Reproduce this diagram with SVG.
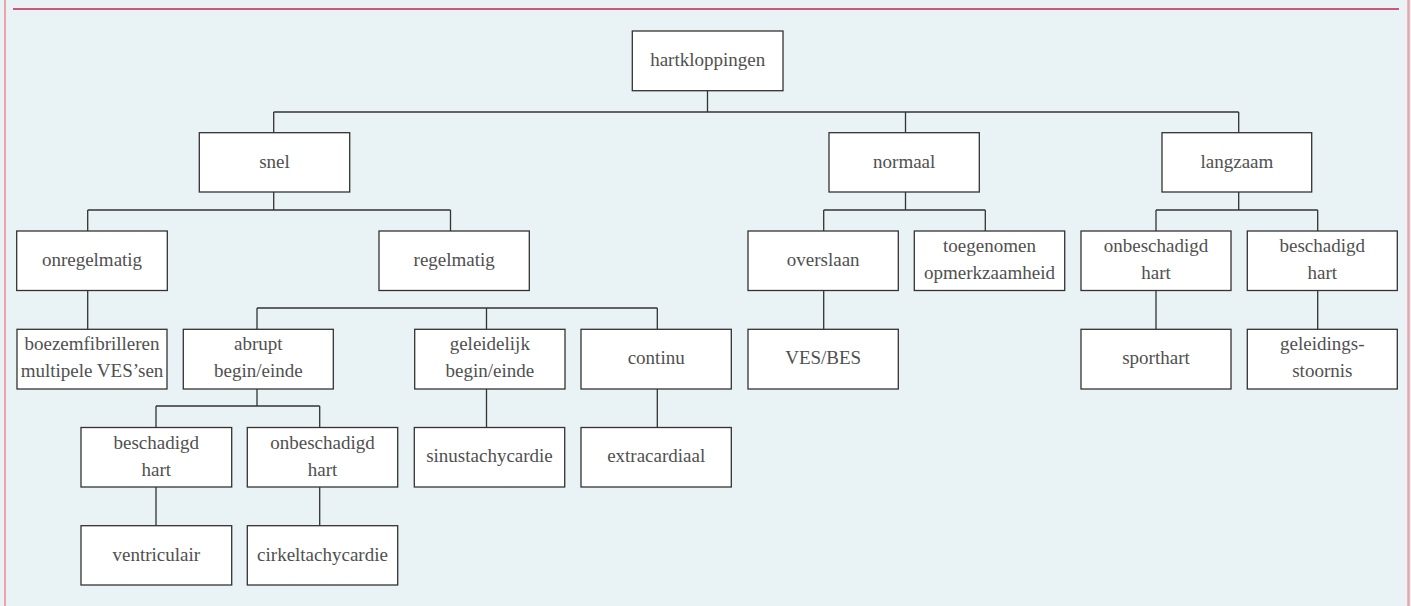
<svg xmlns="http://www.w3.org/2000/svg" width="1411" height="606" viewBox="0 0 1411 606">
<style>
.bg{fill:#e9f2f5}
.box{fill:#ffffff;stroke:#333333;stroke-width:1.3}
.lbl{font-family:"Liberation Serif","Times New Roman",serif;font-size:19px;fill:#505050;text-anchor:middle}
.con{fill:none;stroke:#333333;stroke-width:1.3}
</style>
<rect class="bg" x="0" y="0" width="1411" height="606"/>
<line x1="5" y1="0" x2="5" y2="606" stroke="#eba5aa" stroke-width="2"/>
<line x1="1408.5" y1="0" x2="1408.5" y2="606" stroke="#eba5aa" stroke-width="2.5"/>
<line x1="13" y1="9" x2="1399" y2="9" stroke="#d1547a" stroke-width="2"/>
<g id="connectors">
<path class="con" d="M707.5,91 V112 M273.7,112 H1238.7 M273.7,112 V133 M905.5,112 V133 M1238.7,112 V133"/>
<path class="con" d="M273.7,192 V210 M87.7,210 H450.5 M87.7,210 V231 M450.5,210 V231"/>
<path class="con" d="M905.5,192 V210 M823.7,210 H985.3 M823.7,210 V231 M985.3,210 V231"/>
<path class="con" d="M1238.7,192 V210 M1156,210 H1317.7 M1156,210 V231 M1317.7,210 V231"/>
<path class="con" d="M87.7,290.5 V329.3 M823.7,290.5 V329.3 M1156,290.5 V329.3 M1317.7,290.5 V329.3"/>
<path class="con" d="M257,308 H657.3 M257,308 V329.3 M486.5,308 V329.3 M657.3,308 V329.3"/>
<path class="con" d="M257,389 V406 M156,406 H319.7 M156,406 V427.5 M319.7,406 V427.5 M486.5,389 V427.5 M657.3,389 V427.5"/>
<path class="con" d="M156,487 V525.7 M319.7,487 V525.7"/>
</g>
<g id="n-hartkloppingen"><rect class="box" x="632.3" y="31" width="150.7" height="59.7"/><text class="lbl" x="707.7" y="66">hartkloppingen</text></g>
<g id="n-snel"><rect class="box" x="199.3" y="132.7" width="150.4" height="59.3"/><text class="lbl" x="274.5" y="167.5">snel</text></g>
<g id="n-normaal"><rect class="box" x="829" y="132.7" width="150.3" height="59.3"/><text class="lbl" x="904.2" y="167.5">normaal</text></g>
<g id="n-langzaam"><rect class="box" x="1162" y="132.7" width="149.7" height="59.3"/><text class="lbl" x="1236.9" y="167.5">langzaam</text></g>
<g id="n-onregelmatig"><rect class="box" x="16.7" y="231" width="150.6" height="59.5"/><text class="lbl" x="92" y="265.8">onregelmatig</text></g>
<g id="n-regelmatig"><rect class="box" x="379" y="231" width="150.3" height="59.5"/><text class="lbl" x="454.2" y="265.8">regelmatig</text></g>
<g id="n-overslaan"><rect class="box" x="748" y="231" width="150.3" height="59.5"/><text class="lbl" x="823.2" y="265.8">overslaan</text></g>
<g id="n-toegenomen"><rect class="box" x="914.3" y="231" width="150.4" height="59.5"/><text class="lbl" x="989.5" y="252.3">toegenomen</text><text class="lbl" x="989.5" y="279.3">opmerkzaamheid</text></g>
<g id="n-onbeschadigd-r"><rect class="box" x="1081" y="231" width="150" height="59.5"/><text class="lbl" x="1156" y="252.3">onbeschadigd</text><text class="lbl" x="1156" y="279.3">hart</text></g>
<g id="n-beschadigd-r"><rect class="box" x="1247.3" y="231" width="150" height="59.5"/><text class="lbl" x="1322.3" y="252.3">beschadigd</text><text class="lbl" x="1322.3" y="279.3">hart</text></g>
<g id="n-boezem"><rect class="box" x="17" y="329.3" width="150" height="59.7"/><text class="lbl" x="92" y="350.3">boezemfibrilleren</text><text class="lbl" x="92" y="377.3">multipele VES’sen</text></g>
<g id="n-abrupt"><rect class="box" x="183.3" y="329.3" width="150" height="59.7"/><text class="lbl" x="258.3" y="350.3">abrupt</text><text class="lbl" x="258.3" y="377.3">begin/einde</text></g>
<g id="n-geleidelijk"><rect class="box" x="414.7" y="329.3" width="150.3" height="59.7"/><text class="lbl" x="489.8" y="350.3">geleidelijk</text><text class="lbl" x="489.8" y="377.3">begin/einde</text></g>
<g id="n-continu"><rect class="box" x="581" y="329.3" width="150.3" height="59.7"/><text class="lbl" x="656.2" y="364">continu</text></g>
<g id="n-vesbes"><rect class="box" x="748" y="329.3" width="150.3" height="59.7"/><text class="lbl" x="823.2" y="364">VES/BES</text></g>
<g id="n-sporthart"><rect class="box" x="1081" y="329.3" width="150" height="59.7"/><text class="lbl" x="1156" y="364">sporthart</text></g>
<g id="n-geleidings"><rect class="box" x="1247.3" y="329.3" width="150" height="59.7"/><text class="lbl" x="1322.3" y="350.3">geleidings-</text><text class="lbl" x="1322.3" y="377.3">stoornis</text></g>
<g id="n-beschadigd-l"><rect class="box" x="81" y="427.5" width="150.7" height="59.5"/><text class="lbl" x="156.3" y="448.8">beschadigd</text><text class="lbl" x="156.3" y="475.8">hart</text></g>
<g id="n-onbeschadigd-l"><rect class="box" x="247.3" y="427.5" width="150.4" height="59.5"/><text class="lbl" x="322.5" y="448.8">onbeschadigd</text><text class="lbl" x="322.5" y="475.8">hart</text></g>
<g id="n-sinus"><rect class="box" x="414.3" y="427.5" width="150.4" height="59.5"/><text class="lbl" x="489.5" y="462.3">sinustachycardie</text></g>
<g id="n-extracardiaal"><rect class="box" x="581" y="427.5" width="150.3" height="59.5"/><text class="lbl" x="656.2" y="462.3">extracardiaal</text></g>
<g id="n-ventriculair"><rect class="box" x="81" y="525.7" width="150.7" height="59.3"/><text class="lbl" x="156.3" y="560.5">ventriculair</text></g>
<g id="n-cirkel"><rect class="box" x="247.3" y="525.7" width="150.4" height="59.3"/><text class="lbl" x="322.5" y="560.5">cirkeltachycardie</text></g>
</svg>
